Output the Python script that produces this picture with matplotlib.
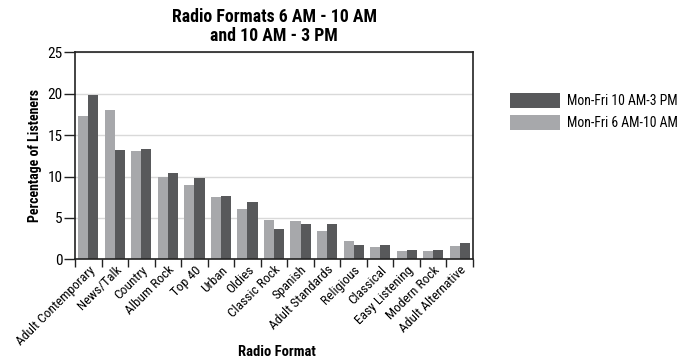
import matplotlib
matplotlib.use("Agg")
import matplotlib.pyplot as plt
import numpy as np

plt.rcParams["font.family"] = ["Roboto Condensed", "DejaVu Sans"]

formats = ["Adult Contemporary", "News/Talk", "Country", "Album Rock", "Top 40",
           "Urban", "Oldies", "Classic Rock", "Spanish", "Adult Standards",
           "Religious", "Classical", "Easy Listening", "Modern Rock", "Adult Alternative"]
morning = [17.3, 18.0, 13.1, 10.0, 9.0, 7.5, 6.1, 4.75, 4.6, 3.4, 2.2, 1.5, 1.0, 1.0, 1.6]
midday = [19.8, 13.2, 13.3, 10.4, 9.8, 7.65, 6.9, 3.65, 4.25, 4.25, 1.7, 1.7, 1.1, 1.1, 2.0]
yticks = [0, 5, 10, 15, 20, 25]

light = "#a7a8ab"
dark = "#58595b"

fig = plt.figure(figsize=(6.96, 3.62), dpi=100)
ax = fig.add_axes([0.1078, 0.2837, 0.5718, 0.5718])

x = np.arange(len(formats))
w = 0.38
b1 = ax.bar(x - w / 2, morning, w, color=light, zorder=2, label="Mon-Fri 6 AM-10 AM")
b2 = ax.bar(x + w / 2, midday, w, color=dark, zorder=2, label="Mon-Fri 10 AM-3 PM")

ax.set_xlim(-0.5, len(formats) - 0.5)
ax.set_ylim(0, 25)
ax.set_yticks(yticks)
ax.yaxis.grid(True, color="#d9d9d9", linewidth=1.0, zorder=0)
ax.set_axisbelow(True)

ax.set_xticks(x)
ax.set_xticklabels(formats, rotation=45, ha="right", rotation_mode="anchor", fontsize=9.6)
ax.tick_params(axis="x", length=0, pad=3)
ax.set_xticks(np.arange(len(formats) + 1) - 0.5, minor=True)
ax.tick_params(axis="x", which="minor", length=6, width=1, color="#222222")
ax.tick_params(axis="y", length=8, width=1, labelsize=11, color="#222222", pad=1)

for s in ax.spines.values():
    s.set_color("#222222")
    s.set_linewidth(1.2)

ax.set_ylabel("Percentage of Listeners", fontsize=10, fontweight="bold", va="center")
ax.yaxis.set_label_coords(-0.1, 0.5)
ax.set_xlabel("Radio Format", fontsize=10.5, fontweight="bold", va="center")
ax.xaxis.set_label_coords(0.507, -0.447)
ax.set_title("Radio Formats 6 AM - 10 AM\nand 10 AM - 3 PM", fontsize=12.8,
             fontweight="bold", pad=8, linespacing=1.05)

ax.legend(handles=[b2, b1], loc="upper left", bbox_to_anchor=(1.08, 0.83),
          frameon=False, fontsize=9.9, handlelength=3.6, handleheight=1.3,
          handletextpad=0.55, labelspacing=0.5, borderaxespad=0)

fig.savefig("out.png", dpi=100)
